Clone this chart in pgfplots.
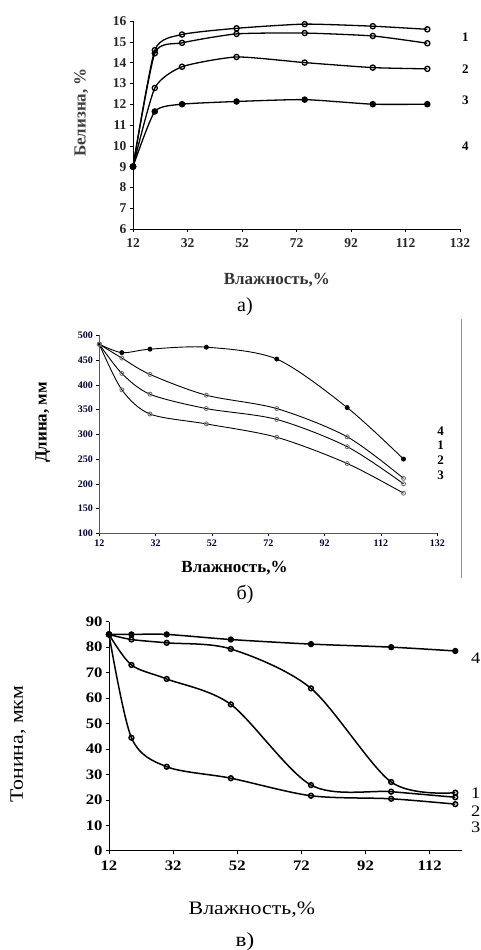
\documentclass[border=0pt]{standalone}
\usepackage{fontspec}
\setmainfont{Liberation Serif}
\newfontfamily\widefont[FakeStretch=1.15]{Liberation Serif}
\usepackage{pgfplots}
\pgfplotsset{compat=1.18}
\definecolor{redline}{HTML}{FF6464}

\pgfplotsset{
  panel/.style={
    scale only axis, axis lines=left, axis line style={-, line width=0.8pt},
    clip=false, tick align=outside, major tick length=3pt,
    tick style={black, line width=0.6pt},
    /pgf/number format/assume math mode=true,
    every axis plot/.append style={black, smooth, tension=0.5},
    anchor=south west, xmin=12,
  },
  open/.style={mark=o, mark options={fill=white, solid}},
  full/.style={mark=*, mark options={solid}},
}

\begin{document}
\begin{tikzpicture}
\path[use as bounding box] (0,0) rectangle (481pt,-950pt);

% a) whiteness
\begin{axis}[panel, at={(133pt,-229pt)}, width=327pt, height=208pt,
    xmax=132, ymin=6, ymax=16, xtick={12,32,...,132}, ytick={6,...,16},
    tick label style={font=\bfseries\fontsize{13.5}{13.5}\selectfont, color=black!85},
    xticklabel style={yshift=-3pt},
    ylabel={Белизна, \%}, xlabel={Влажность,\%},
    ylabel style={font=\bfseries\fontsize{17}{17}\selectfont, color=black!75, at={(axis description cs:-0.158,0.56)}, anchor=center},
    xlabel style={font=\bfseries\fontsize{17}{17}\selectfont, color=black!80, at={(axis description cs:0.44,-0.245)}, anchor=center},
    every axis plot/.append style={line width=1.3pt, mark size=2.6pt, tension=0.35}]
  \addplot[open] coordinates {(12,9) (20,14.6) (30,15.35) (50,15.65) (75,15.85) (100,15.75) (120,15.6)};
  \addplot[open] coordinates {(12,9) (20,14.45) (30,14.95) (50,15.38) (75,15.42) (100,15.28) (120,14.93)};
  \addplot[open] coordinates {(12,9) (20,12.78) (30,13.8) (50,14.27) (75,14.0) (100,13.76) (120,13.7)};
  \addplot[full] coordinates {(12,9) (20,11.65) (30,12.0) (50,12.13) (75,12.22) (100,12.0) (120,12.0)};
  \begin{scope}[font=\bfseries\fontsize{13}{13}\selectfont]
    \node at (axis cs:134,15.2) {1};
    \node at (axis cs:134,13.7) {2};
    \node at (axis cs:134,12.2) {3};
    \node at (axis cs:134,10.0) {4};
  \end{scope}
\end{axis}
\node[font=\fontsize{20}{20}\selectfont] at (245pt,-307pt) {а)};
\draw[redline, line width=1.5pt] (461.7pt,-319pt) -- (461.7pt,-578pt);

% b) length
\begin{axis}[panel, at={(99.3pt,-533.3pt)}, width=338pt, height=198pt,
    xmax=132, ymin=100, ymax=500, xtick={12,32,...,132}, ytick={100,150,...,500},
    tick label style={font=\bfseries\fontsize{10}{10}\selectfont, color=black!80!blue},
    axis line style={line width=0.9pt, color=black!65},
    ylabel={Длина, мм}, xlabel={Влажность,\%},
    ylabel style={font=\bfseries\fontsize{17}{17}\selectfont, at={(axis description cs:-0.167,0.56)}, anchor=center},
    xlabel style={font=\bfseries\fontsize{17}{17}\selectfont, at={(axis description cs:0.40,-0.175)}, anchor=center},
    every axis plot/.append style={line width=0.9pt, mark size=2pt}]
  \addplot[full] coordinates {(12,482) (20,465) (30,472) (50,476) (75,452) (100,354) (120,250)};
  \addplot[mark=o, mark options={draw=black!55, solid}] coordinates {(12,482) (20,454) (30,421) (50,379) (75,352) (100,295) (120,211)};
  \addplot[mark=o, mark options={draw=black!55, solid}] coordinates {(12,482) (20,423) (30,381) (50,352) (75,330) (100,275) (120,200)};
  \addplot[mark=o, mark options={draw=black!55, solid}] coordinates {(12,482) (20,390) (30,341) (50,321) (75,294) (100,241) (120,181)};
  \begin{scope}[font=\bfseries\fontsize{13}{13}\selectfont]
    \node at (axis cs:133.2,307) {4};
    \node at (axis cs:133.2,277) {1};
    \node at (axis cs:133.2,247) {2};
    \node at (axis cs:133.2,217) {3};
  \end{scope}
\end{axis}
\node[font=\fontsize{20}{20}\selectfont] at (245pt,-594pt) {б)};

% c) fineness
\begin{axis}[panel, at={(109pt,-850.7pt)}, width=352.7pt, height=229pt,
    xmax=122, ymin=0, ymax=90, xtick={12,32,...,112}, ytick={0,10,...,90},
    tick label style={font=\widefont\bfseries\fontsize{14.5}{14.5}\selectfont},
    xticklabel style={yshift=-4pt},
    axis line style={line width=0.9pt},
    ylabel={Тонина, мкм}, xlabel={Влажность,\%},
    ylabel style={font=\widefont\fontsize{19}{19}\selectfont, at={(axis description cs:-0.258,0.466)}, anchor=center},
    xlabel style={font=\widefont\fontsize{19}{19}\selectfont, at={(axis description cs:0.405,-0.259)}, anchor=center},
    every axis plot/.append style={line width=1.5pt, mark size=2.4pt}]
  \addplot[full] coordinates {(12,85) (19,85) (30,85) (50,83) (75,81.2) (100,80) (120,78.5)};
  \addplot[open] coordinates {(12,85) (19,83) (30,81.7) (50,79.3) (75,63.8) (100,27) (120,22.8)};
  \addplot[open] coordinates {(12,85) (19,73) (30,67.5) (50,57.5) (75,25.8) (100,23.2) (120,21)};
  \addplot[open] coordinates {(12,85) (19,44.4) (30,33) (50,28.5) (75,21.6) (100,20.4) (120,18.3)};
  \begin{scope}[font=\widefont\fontsize{16}{16}\selectfont]
    \node at (axis cs:126.4,75.6) {4};
    \node at (axis cs:126.4,22.6) {1};
    \node at (axis cs:126.4,15.7) {2};
    \node at (axis cs:126.4,9.2) {3};
  \end{scope}
\end{axis}
\node[font=\widefont\fontsize{20}{20}\selectfont] at (245pt,-942pt) {в)};
\end{tikzpicture}
\end{document}
